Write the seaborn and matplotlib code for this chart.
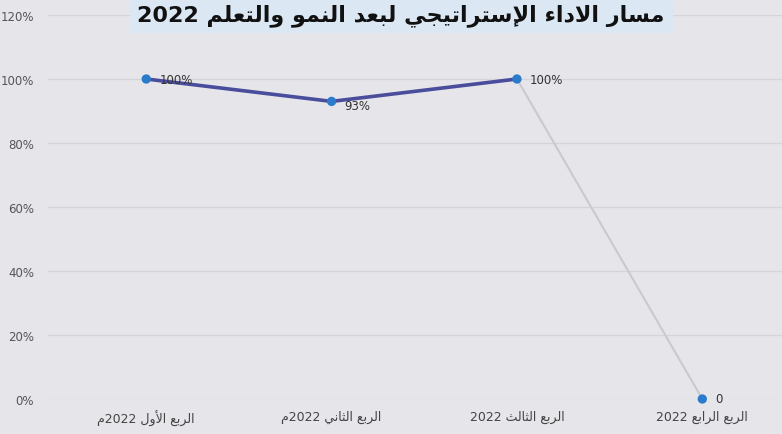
import re
import matplotlib
matplotlib.use("Agg")
import matplotlib.pyplot as plt
import seaborn as sns

# chart data
title = "مسار الاداء الإستراتيجي لبعد النمو والتعلم 2022"
quarters = ["الربع الأول 2022م", "الربع الثاني 2022م", "الربع الثالث 2022", "الربع الرابع 2022"]
values = [1.00, 0.93, 1.00, 0.0]
value_labels = ["100%", "93%", "100%", "0"]
y_ticks = [0, 0.2, 0.4, 0.6, 0.8, 1.0, 1.2]
y_tick_labels = ["0%", "20%", "40%", "60%", "80%", "100%", "120%"]

# matplotlib has no Arabic shaping, so pick presentation forms by hand
# (isolated, final, initial, medial)
FORMS = {
    "\u0621": ("\uFE80", None, None, None),
    "\u0623": ("\uFE83", "\uFE84", None, None),
    "\u0625": ("\uFE87", "\uFE88", None, None),
    "\u0627": ("\uFE8D", "\uFE8E", None, None),
    "\u0628": ("\uFE8F", "\uFE90", "\uFE91", "\uFE92"),
    "\u062A": ("\uFE95", "\uFE96", "\uFE97", "\uFE98"),
    "\u062B": ("\uFE99", "\uFE9A", "\uFE9B", "\uFE9C"),
    "\u062C": ("\uFE9D", "\uFE9E", "\uFE9F", "\uFEA0"),
    "\u062F": ("\uFEA9", "\uFEAA", None, None),
    "\u0631": ("\uFEAD", "\uFEAE", None, None),
    "\u0633": ("\uFEB1", "\uFEB2", "\uFEB3", "\uFEB4"),
    "\u0639": ("\uFEC9", "\uFECA", "\uFECB", "\uFECC"),
    "\u0644": ("\uFEDD", "\uFEDE", "\uFEDF", "\uFEE0"),
    "\u0645": ("\uFEE1", "\uFEE2", "\uFEE3", "\uFEE4"),
    "\u0646": ("\uFEE5", "\uFEE6", "\uFEE7", "\uFEE8"),
    "\u0648": ("\uFEED", "\uFEEE", None, None),
    "\u064A": ("\uFEF1", "\uFEF2", "\uFEF3", "\uFEF4"),
    # lam-alef ligatures
    "\uFEFB": ("\uFEFB", "\uFEFC", None, None),
    "\uFEF7": ("\uFEF7", "\uFEF8", None, None),
    "\uFEF9": ("\uFEF9", "\uFEFA", None, None),
}
LAM_ALEF = [("\u0644\u0627", "\uFEFB"), ("\u0644\u0623", "\uFEF7"), ("\u0644\u0625", "\uFEF9")]


def shape(text):
    for a, b in LAM_ALEF:
        text = text.replace(a, b)
    out = []
    for i, c in enumerate(text):
        if c not in FORMS:
            out.append(c)
            continue
        iso, fin, ini, med = FORMS[c]
        prev = text[i - 1] if i > 0 else ""
        nxt = text[i + 1] if i + 1 < len(text) else ""
        join_prev = fin is not None and prev in FORMS and FORMS[prev][2] is not None
        join_next = ini is not None and nxt in FORMS and FORMS[nxt][1] is not None
        if join_prev and join_next:
            out.append(med)
        elif join_prev:
            out.append(fin)
        elif join_next:
            out.append(ini)
        else:
            out.append(iso)
    return "".join(out)


def rtl(text):
    # shape, then lay the runs out right to left (numbers stay left to right)
    runs = re.findall(r"[\u0600-\u06FF\uFB50-\uFEFF]+|[0-9A-Za-z%.]+|\s+", shape(text))
    runs = [r[::-1] if re.match(r"[\u0600-\u06FF\uFB50-\uFEFF]", r) else r for r in runs]
    return "".join(runs[::-1])


bg = "#e5e5ea"
sns.set_theme(style="whitegrid")
plt.rcParams["font.family"] = ["DejaVu Sans"]

fig = plt.figure(figsize=(7.82, 4.35), dpi=100, facecolor=bg)
ax = fig.add_axes([48 / 782, 35 / 435, 1 - 48 / 782, (400 - 16) / 435])
ax.set_facecolor(bg)

xs = list(range(len(quarters)))

# first three quarters in dark blue, drop to the last one in light grey
sns.lineplot(x=xs[:3], y=values[:3], ax=ax, color="#4a4c9c", linewidth=2.6)
sns.lineplot(x=xs[2:], y=values[2:], ax=ax, color="#c9c9cf", linewidth=1.5)
sns.scatterplot(x=xs, y=values, ax=ax, color="#2b7bcb", s=45, edgecolor="none",
                zorder=5, clip_on=False)

for x, v, lab in zip(xs, values, value_labels):
    dy = -0.012 if lab == "93%" else 0
    ax.text(x + 0.07, v + dy, lab, fontsize=8.5, color="#333333", va="center", ha="left")

ax.set_xlim(-0.53, 3.43)
ax.set_ylim(0, 1.2)
ax.set_yticks(y_ticks)
ax.set_yticklabels(y_tick_labels, fontsize=8.5, color="#555555")
ax.set_xticks(xs)
ax.set_xticklabels([rtl(q) for q in quarters], fontsize=9, color="#444444")
ax.tick_params(axis="both", length=0, pad=8)
ax.tick_params(axis="y", pad=10)
ax.grid(axis="y", color="#d4d4da", linewidth=0.9)
ax.grid(axis="x", visible=False)
for s in ax.spines.values():
    s.set_visible(False)

fig.text(0.513, 0.965, rtl(title), fontsize=16, fontweight="bold", color="#111111",
         ha="center", va="center",
         bbox=dict(boxstyle="square,pad=0.35", facecolor="#dce7f4", edgecolor="none"))

fig.savefig("out.png", dpi=100, facecolor=bg)
